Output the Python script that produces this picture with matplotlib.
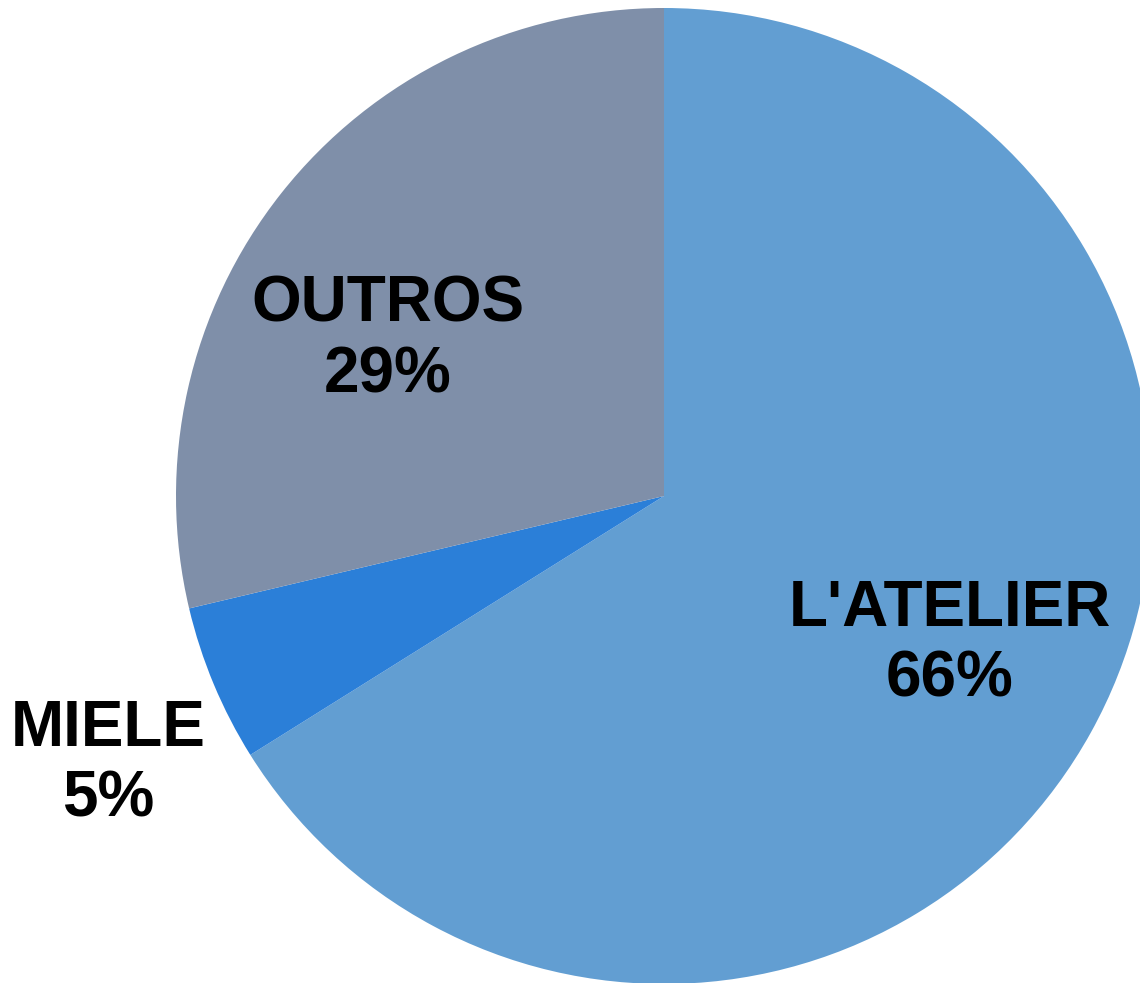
import matplotlib
matplotlib.use("Agg")
import matplotlib.pyplot as plt

labels = ["L'ATELIER", "MIELE", "OUTROS"]
values = [66.1, 5.2, 28.7]
pct_text = ["66%", "5%", "29%"]
colors = ["#629ED2", "#2B7FD8", "#7F8FA9"]

# label centres, in units of the pie radius (centre = 0,0)
label_pos = [(0.586, -0.303), (-1.139, -0.549), (-0.566, 0.320)]

plt.rcParams['font.family'] = ['Liberation Sans', 'DejaVu Sans']

fig = plt.figure(figsize=(11.4, 9.83), dpi=100)
ax = fig.add_axes([0, 0, 1, 1])

# pie of radius 1, drawn clockwise from the top
ax.pie(values, colors=colors, startangle=90, counterclock=False,
       radius=1, center=(0, 0), wedgeprops={'linewidth': 0})

for (x, y), name, p in zip(label_pos, labels, pct_text):
    ax.text(x, y, name + "\n" + p, ha='center', va='center',
            fontsize=46, fontweight='bold', linespacing=1.22)

# the picture is cropped: 488 px per radius, centre at (664, 496)
ax.set_aspect('auto')
ax.set_xlim(-664 / 488, (1140 - 664) / 488)
ax.set_ylim(-(983 - 496) / 488, 496 / 488)
ax.axis('off')

fig.savefig("out.png", dpi=100)
